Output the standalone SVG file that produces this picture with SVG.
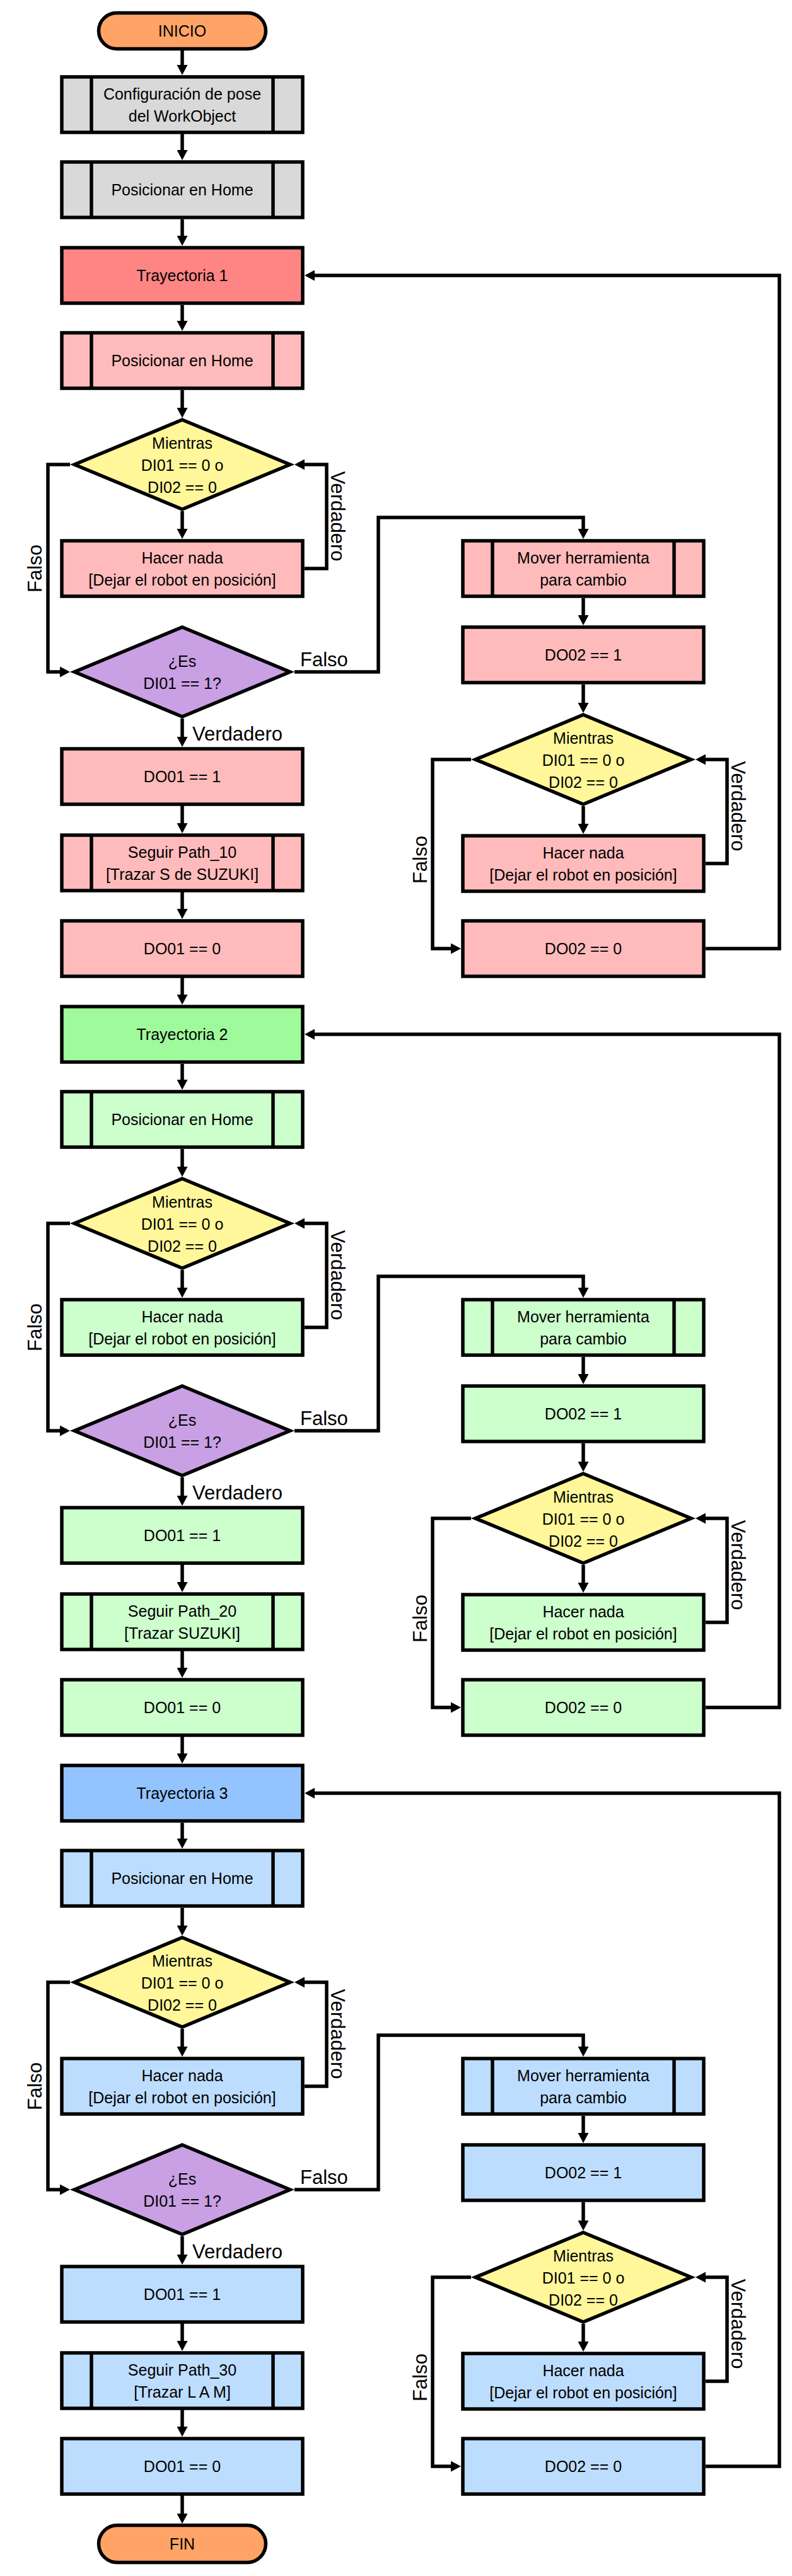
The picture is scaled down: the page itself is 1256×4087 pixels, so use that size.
<svg xmlns="http://www.w3.org/2000/svg" width="1256" height="4087" viewBox="0 0 1256 4087">
<style>
.box{stroke:#000;stroke-width:5.5;stroke-linejoin:miter}
.sep{stroke:#000;stroke-width:5.5}
.t{font-family:"Liberation Sans",Arial,sans-serif;font-size:25px;text-anchor:middle;fill:#000}
.lbl{font-family:"Liberation Sans",Arial,sans-serif;font-size:31px;fill:#000}
.c{fill:none;stroke:#000;stroke-width:5.5;stroke-linejoin:miter;marker-end:url(#ah)}
.term{fill:#FFA366}
.gray{fill:#D9D9D9}
.yel{fill:#FFF799}
.pur{fill:#C9A0E3}
.r1{fill:#FF8585}.l1{fill:#FFBBBB}
.r2{fill:#9EFA9A}.l2{fill:#CCFFCC}
.r3{fill:#93C4FF}.l3{fill:#BDDDFF}
</style>
<defs>
<marker id="ah" markerWidth="17" markerHeight="17" refX="10" refY="8.5" orient="auto" markerUnits="userSpaceOnUse"><path d="M0,0 L16,8.5 L0,17 z" fill="#000"/></marker>
</defs>
<rect width="1256" height="4087" fill="#fff"/>

<g id="connectors">
<path class="c" d="M289,80 V113"/>
<path class="c" d="M289,212 V248"/>
<path class="c" d="M289,348 V384"/>
<path class="c" d="M289,3958 V3998"/>
<g id="conn-s1">
<path class="c" d="M289,484 V519"/>
<path class="c" d="M289,619 V657"/>
<path class="c" d="M289,811 V849"/>
<path class="c" d="M483,902 H518 V737 H473"/>
<path class="c" d="M111,737 H76 V1066 H105"/>
<path class="c" d="M467,1066 H600 V821 H925 V849"/>
<path class="c" d="M289,1140 V1179"/>
<path class="c" d="M289,1277 V1316"/>
<path class="c" d="M289,1414 V1452"/>
<path class="c" d="M289,1550 V1588"/>
<path class="c" d="M925,949 V986"/>
<path class="c" d="M925,1086 V1125"/>
<path class="c" d="M925,1279 V1317"/>
<path class="c" d="M1119,1370 H1153 V1205 H1109"/>
<path class="c" d="M747,1205 H686 V1505 H725"/>
<path class="c" d="M1119,1505 H1236 V437 H489"/>
<text class="lbl" text-anchor="middle" transform="translate(66,902) rotate(-90)">Falso</text>
<text class="lbl" text-anchor="middle" transform="translate(525,819) rotate(90)">Verdadero</text>
<text class="lbl" text-anchor="middle" transform="translate(677,1364) rotate(-90)">Falso</text>
<text class="lbl" text-anchor="middle" transform="translate(1160,1279) rotate(90)">Verdadero</text>
<text class="lbl" x="476" y="1057">Falso</text>
<text class="lbl" x="305" y="1175">Verdadero</text>
</g>
<g id="conn-s2" transform="translate(0,1204)">
<path class="c" d="M289,484 V519"/>
<path class="c" d="M289,619 V657"/>
<path class="c" d="M289,811 V849"/>
<path class="c" d="M483,902 H518 V737 H473"/>
<path class="c" d="M111,737 H76 V1066 H105"/>
<path class="c" d="M467,1066 H600 V821 H925 V849"/>
<path class="c" d="M289,1140 V1179"/>
<path class="c" d="M289,1277 V1316"/>
<path class="c" d="M289,1414 V1452"/>
<path class="c" d="M289,1550 V1588"/>
<path class="c" d="M925,949 V986"/>
<path class="c" d="M925,1086 V1125"/>
<path class="c" d="M925,1279 V1317"/>
<path class="c" d="M1119,1370 H1153 V1205 H1109"/>
<path class="c" d="M747,1205 H686 V1505 H725"/>
<path class="c" d="M1119,1505 H1236 V437 H489"/>
<text class="lbl" text-anchor="middle" transform="translate(66,902) rotate(-90)">Falso</text>
<text class="lbl" text-anchor="middle" transform="translate(525,819) rotate(90)">Verdadero</text>
<text class="lbl" text-anchor="middle" transform="translate(677,1364) rotate(-90)">Falso</text>
<text class="lbl" text-anchor="middle" transform="translate(1160,1279) rotate(90)">Verdadero</text>
<text class="lbl" x="476" y="1057">Falso</text>
<text class="lbl" x="305" y="1175">Verdadero</text>
</g>
<g id="conn-s3" transform="translate(0,2408)">
<path class="c" d="M289,484 V519"/>
<path class="c" d="M289,619 V657"/>
<path class="c" d="M289,811 V849"/>
<path class="c" d="M483,902 H518 V737 H473"/>
<path class="c" d="M111,737 H76 V1066 H105"/>
<path class="c" d="M467,1066 H600 V821 H925 V849"/>
<path class="c" d="M289,1140 V1179"/>
<path class="c" d="M289,1277 V1316"/>
<path class="c" d="M289,1414 V1452"/>
<path class="c" d="M925,949 V986"/>
<path class="c" d="M925,1086 V1125"/>
<path class="c" d="M925,1279 V1317"/>
<path class="c" d="M1119,1370 H1153 V1205 H1109"/>
<path class="c" d="M747,1205 H686 V1505 H725"/>
<path class="c" d="M1119,1505 H1236 V437 H489"/>
<text class="lbl" text-anchor="middle" transform="translate(66,902) rotate(-90)">Falso</text>
<text class="lbl" text-anchor="middle" transform="translate(525,819) rotate(90)">Verdadero</text>
<text class="lbl" text-anchor="middle" transform="translate(677,1364) rotate(-90)">Falso</text>
<text class="lbl" text-anchor="middle" transform="translate(1160,1279) rotate(90)">Verdadero</text>
<text class="lbl" x="476" y="1057">Falso</text>
<text class="lbl" x="305" y="1175">Verdadero</text>
</g>
</g>

<g id="inicio"><rect class="box term" x="156.5" y="20.5" width="265" height="57" rx="28.5"/><text class="t" x="289" y="58">INICIO</text></g>
<g id="config"><rect class="box gray" x="98" y="122" width="382" height="88"/><line class="sep" x1="145" y1="122" x2="145" y2="210"/><line class="sep" x1="433" y1="122" x2="433" y2="210"/><text class="t" x="289" y="158">Configuración de pose</text><text class="t" x="289" y="193">del WorkObject</text></g>
<g id="home0"><rect class="box gray" x="98" y="257" width="382" height="88"/><line class="sep" x1="145" y1="257" x2="145" y2="345"/><line class="sep" x1="433" y1="257" x2="433" y2="345"/><text class="t" x="289" y="310">Posicionar en Home</text></g>

<g id="s1">
<g id="tray1"><rect class="box r1" x="98" y="393" width="382" height="88"/><text class="t" x="289" y="446">Trayectoria 1</text></g>
<g id="home1"><rect class="box l1" x="98" y="528" width="382" height="88"/><line class="sep" x1="145" y1="528" x2="145" y2="616"/><line class="sep" x1="433" y1="528" x2="433" y2="616"/><text class="t" x="289" y="581">Posicionar en Home</text></g>
<g id="while1a"><polygon class="box yel" points="289,666 460,737 289,808 118,737"/><text class="t" x="289" y="712">Mientras</text><text class="t" x="289" y="747">DI01 == 0 o</text><text class="t" x="289" y="782">DI02 == 0</text></g>
<g id="wait1a"><rect class="box l1" x="98" y="858" width="382" height="88"/><text class="t" x="289" y="894">Hacer nada</text><text class="t" x="289" y="929">[Dejar el robot en posición]</text></g>
<g id="if1"><polygon class="box pur" points="289,995 460,1066 289,1137 118,1066"/><text class="t" x="289" y="1058">¿Es</text><text class="t" x="289" y="1093">DI01 == 1?</text></g>
<g id="do1on1"><rect class="box l1" x="98" y="1188" width="382" height="88"/><text class="t" x="289" y="1241">DO01 == 1</text></g>
<g id="path10"><rect class="box l1" x="98" y="1325" width="382" height="88"/><line class="sep" x1="145" y1="1325" x2="145" y2="1413"/><line class="sep" x1="433" y1="1325" x2="433" y2="1413"/><text class="t" x="289" y="1361">Seguir Path_10</text><text class="t" x="289" y="1396">[Trazar S de SUZUKI]</text></g>
<g id="do1off1"><rect class="box l1" x="98" y="1461" width="382" height="88"/><text class="t" x="289" y="1514">DO01 == 0</text></g>
<g id="tool1"><rect class="box l1" x="734" y="858" width="382" height="88"/><line class="sep" x1="781" y1="858" x2="781" y2="946"/><line class="sep" x1="1069" y1="858" x2="1069" y2="946"/><text class="t" x="925" y="894">Mover herramienta</text><text class="t" x="925" y="929">para cambio</text></g>
<g id="do2on1"><rect class="box l1" x="734" y="995" width="382" height="88"/><text class="t" x="925" y="1048">DO02 == 1</text></g>
<g id="while1b"><polygon class="box yel" points="925,1134 1096,1205 925,1276 754,1205"/><text class="t" x="925" y="1180">Mientras</text><text class="t" x="925" y="1215">DI01 == 0 o</text><text class="t" x="925" y="1250">DI02 == 0</text></g>
<g id="wait1b"><rect class="box l1" x="734" y="1326" width="382" height="88"/><text class="t" x="925" y="1362">Hacer nada</text><text class="t" x="925" y="1397">[Dejar el robot en posición]</text></g>
<g id="do2off1"><rect class="box l1" x="734" y="1461" width="382" height="88"/><text class="t" x="925" y="1514">DO02 == 0</text></g>
</g>

<g id="s2" transform="translate(0,1204)">
<g id="tray2"><rect class="box r2" x="98" y="393" width="382" height="88"/><text class="t" x="289" y="446">Trayectoria 2</text></g>
<g id="home2"><rect class="box l2" x="98" y="528" width="382" height="88"/><line class="sep" x1="145" y1="528" x2="145" y2="616"/><line class="sep" x1="433" y1="528" x2="433" y2="616"/><text class="t" x="289" y="581">Posicionar en Home</text></g>
<g id="while2a"><polygon class="box yel" points="289,666 460,737 289,808 118,737"/><text class="t" x="289" y="712">Mientras</text><text class="t" x="289" y="747">DI01 == 0 o</text><text class="t" x="289" y="782">DI02 == 0</text></g>
<g id="wait2a"><rect class="box l2" x="98" y="858" width="382" height="88"/><text class="t" x="289" y="894">Hacer nada</text><text class="t" x="289" y="929">[Dejar el robot en posición]</text></g>
<g id="if2"><polygon class="box pur" points="289,995 460,1066 289,1137 118,1066"/><text class="t" x="289" y="1058">¿Es</text><text class="t" x="289" y="1093">DI01 == 1?</text></g>
<g id="do1on2"><rect class="box l2" x="98" y="1188" width="382" height="88"/><text class="t" x="289" y="1241">DO01 == 1</text></g>
<g id="path20"><rect class="box l2" x="98" y="1325" width="382" height="88"/><line class="sep" x1="145" y1="1325" x2="145" y2="1413"/><line class="sep" x1="433" y1="1325" x2="433" y2="1413"/><text class="t" x="289" y="1361">Seguir Path_20</text><text class="t" x="289" y="1396">[Trazar SUZUKI]</text></g>
<g id="do1off2"><rect class="box l2" x="98" y="1461" width="382" height="88"/><text class="t" x="289" y="1514">DO01 == 0</text></g>
<g id="tool2"><rect class="box l2" x="734" y="858" width="382" height="88"/><line class="sep" x1="781" y1="858" x2="781" y2="946"/><line class="sep" x1="1069" y1="858" x2="1069" y2="946"/><text class="t" x="925" y="894">Mover herramienta</text><text class="t" x="925" y="929">para cambio</text></g>
<g id="do2on2"><rect class="box l2" x="734" y="995" width="382" height="88"/><text class="t" x="925" y="1048">DO02 == 1</text></g>
<g id="while2b"><polygon class="box yel" points="925,1134 1096,1205 925,1276 754,1205"/><text class="t" x="925" y="1180">Mientras</text><text class="t" x="925" y="1215">DI01 == 0 o</text><text class="t" x="925" y="1250">DI02 == 0</text></g>
<g id="wait2b"><rect class="box l2" x="734" y="1326" width="382" height="88"/><text class="t" x="925" y="1362">Hacer nada</text><text class="t" x="925" y="1397">[Dejar el robot en posición]</text></g>
<g id="do2off2"><rect class="box l2" x="734" y="1461" width="382" height="88"/><text class="t" x="925" y="1514">DO02 == 0</text></g>
</g>

<g id="s3" transform="translate(0,2408)">
<g id="tray3"><rect class="box r3" x="98" y="393" width="382" height="88"/><text class="t" x="289" y="446">Trayectoria 3</text></g>
<g id="home3"><rect class="box l3" x="98" y="528" width="382" height="88"/><line class="sep" x1="145" y1="528" x2="145" y2="616"/><line class="sep" x1="433" y1="528" x2="433" y2="616"/><text class="t" x="289" y="581">Posicionar en Home</text></g>
<g id="while3a"><polygon class="box yel" points="289,666 460,737 289,808 118,737"/><text class="t" x="289" y="712">Mientras</text><text class="t" x="289" y="747">DI01 == 0 o</text><text class="t" x="289" y="782">DI02 == 0</text></g>
<g id="wait3a"><rect class="box l3" x="98" y="858" width="382" height="88"/><text class="t" x="289" y="894">Hacer nada</text><text class="t" x="289" y="929">[Dejar el robot en posición]</text></g>
<g id="if3"><polygon class="box pur" points="289,995 460,1066 289,1137 118,1066"/><text class="t" x="289" y="1058">¿Es</text><text class="t" x="289" y="1093">DI01 == 1?</text></g>
<g id="do1on3"><rect class="box l3" x="98" y="1188" width="382" height="88"/><text class="t" x="289" y="1241">DO01 == 1</text></g>
<g id="path30"><rect class="box l3" x="98" y="1325" width="382" height="88"/><line class="sep" x1="145" y1="1325" x2="145" y2="1413"/><line class="sep" x1="433" y1="1325" x2="433" y2="1413"/><text class="t" x="289" y="1361">Seguir Path_30</text><text class="t" x="289" y="1396">[Trazar L A M]</text></g>
<g id="do1off3"><rect class="box l3" x="98" y="1461" width="382" height="88"/><text class="t" x="289" y="1514">DO01 == 0</text></g>
<g id="tool3"><rect class="box l3" x="734" y="858" width="382" height="88"/><line class="sep" x1="781" y1="858" x2="781" y2="946"/><line class="sep" x1="1069" y1="858" x2="1069" y2="946"/><text class="t" x="925" y="894">Mover herramienta</text><text class="t" x="925" y="929">para cambio</text></g>
<g id="do2on3"><rect class="box l3" x="734" y="995" width="382" height="88"/><text class="t" x="925" y="1048">DO02 == 1</text></g>
<g id="while3b"><polygon class="box yel" points="925,1134 1096,1205 925,1276 754,1205"/><text class="t" x="925" y="1180">Mientras</text><text class="t" x="925" y="1215">DI01 == 0 o</text><text class="t" x="925" y="1250">DI02 == 0</text></g>
<g id="wait3b"><rect class="box l3" x="734" y="1326" width="382" height="88"/><text class="t" x="925" y="1362">Hacer nada</text><text class="t" x="925" y="1397">[Dejar el robot en posición]</text></g>
<g id="do2off3"><rect class="box l3" x="734" y="1461" width="382" height="88"/><text class="t" x="925" y="1514">DO02 == 0</text></g>
</g>

<g id="fin"><rect class="box term" x="156.5" y="4006.5" width="265" height="59" rx="29.5"/><text class="t" x="289" y="4045">FIN</text></g>
</svg>
